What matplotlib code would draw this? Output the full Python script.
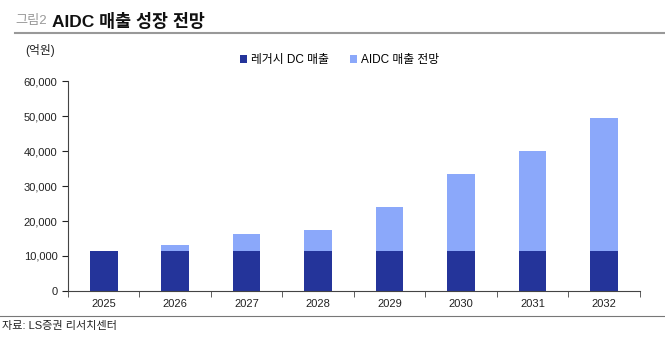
import matplotlib
matplotlib.use('Agg')
import matplotlib.pyplot as plt
import numpy as np

plt.rcParams['font.family'] = ['Liberation Sans', 'Noto Sans CJK KR', 'DejaVu Sans']

years = ['2025', '2026', '2027', '2028', '2029', '2030', '2031', '2032']
legacy_dc = [11300, 11300, 11300, 11300, 11300, 11300, 11300, 11300]
aidc_total = [11300, 13100, 16300, 17400, 24000, 33400, 40000, 49400]
aidc_extra = [t - l for t, l in zip(aidc_total, legacy_dc)]

DARK = '#24349a'
LIGHT = '#8ba8fa'

fig = plt.figure(figsize=(6.65, 3.51), dpi=100)
ax = fig.add_axes([0.102, 0.171, 0.86, 0.598])

x = np.arange(len(years))
w = 0.39
ax.bar(x, legacy_dc, w, color=DARK, label='레거시 DC 매출')
ax.bar(x, aidc_extra, w, bottom=legacy_dc, color=LIGHT, label='AIDC 매출 전망')

ax.set_xlim(-0.5, len(years) - 0.5)
ax.set_ylim(0, 60000)
ax.set_yticks(range(0, 60001, 10000))
ax.set_yticklabels([f'{v:,}' for v in range(0, 60001, 10000)])
ax.set_xticks(x)
ax.set_xticklabels(years)
ax.set_xticks(np.arange(-0.5, len(years)), minor=True)
ax.tick_params(axis='x', which='major', length=0, pad=6)
ax.tick_params(axis='x', which='minor', length=4, direction='out', color='#444444')
ax.tick_params(axis='y', length=4, direction='out', color='#444444')
ax.tick_params(labelsize=8, colors='#222222')
for s in ['top', 'right']:
    ax.spines[s].set_visible(False)
for s in ['left', 'bottom']:
    ax.spines[s].set_color('#444444')
    ax.spines[s].set_linewidth(0.8)

ax.legend(loc='center', bbox_to_anchor=(0.475, 1.1), ncol=2, frameon=False,
          fontsize=8.5, handlelength=0.6, handleheight=0.6, handletextpad=0.3,
          columnspacing=1.8)

# header and footer
fig.text(0.023, 0.94, '그림2', fontsize=9.5, color='#999999', va='center')
fig.text(0.078, 0.94, 'AIDC 매출 성장 전망', fontsize=12.5, fontweight='bold',
         color='#111111', va='center')
fig.add_artist(plt.Line2D([0.022, 1.0], [0.905, 0.905], color='#999999', lw=1.5))
fig.text(0.038, 0.857, '(억원)', fontsize=8.5, color='#222222', va='center')
fig.add_artist(plt.Line2D([0.0, 1.0], [0.1, 0.1], color='#777777', lw=0.8))
fig.text(0.003, 0.072, '자료: LS증권 리서치센터', fontsize=8, color='#222222', va='center')

fig.savefig('out.png', dpi=100)
